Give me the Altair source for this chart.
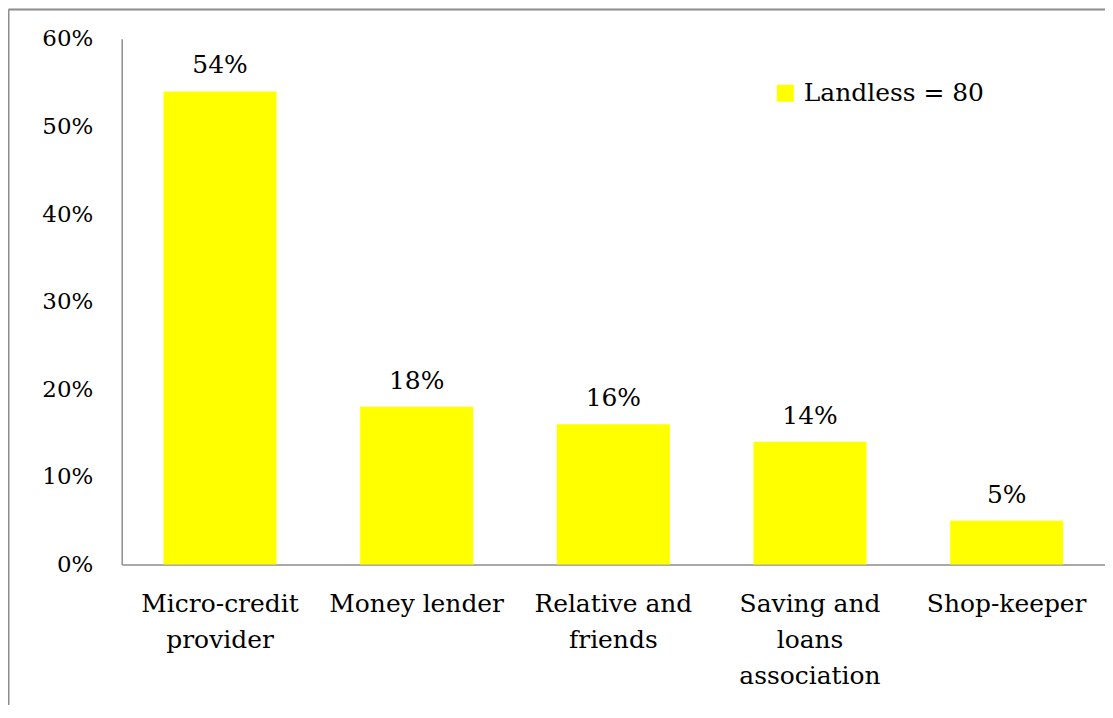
import altair as alt
import pandas as pd

categories = ["Micro-credit|provider", "Money lender", "Relative and|friends",
              "Saving and|loans|association", "Shop-keeper"]
values = [54, 18, 16, 14, 5]
value_labels = ["54%", "18%", "16%", "14%", "5%"]
series_name = "Landless = 80"
y_ticks = [0, 0.1, 0.2, 0.3, 0.4, 0.5, 0.6]

df = pd.DataFrame({
    "category": categories,
    "share": [v / 100 for v in values],
    "label": value_labels,
    "series": [series_name] * len(categories),
})

FONT = "DejaVu Serif"
W, H = 986, 527

base = alt.Chart(df)

bars = base.mark_bar(color="#FFFF00").encode(
    x=alt.X("category:N", sort=None, title=None,
            scale=alt.Scale(paddingInner=0.425, paddingOuter=0.2125),
            axis=alt.Axis(labelExpr="split(datum.label, '|')", labelAngle=0,
                          labelFont=FONT, labelFontSize=25, labelColor="black",
                          labelLineHeight=36, labelPadding=27, ticks=False,
                          domainColor="#8c8c8c", domainWidth=1.5, labelLimit=300)),
    y=alt.Y("share:Q", title=None,
            scale=alt.Scale(domain=[0, 0.6], nice=False),
            axis=alt.Axis(values=y_ticks, format=".0%", grid=False, ticks=False,
                          labelFont=FONT, labelFontSize=23, labelColor="black",
                          labelPadding=29, domainColor="#8c8c8c", domainWidth=1.5)),
    fill=alt.Fill("series:N", title=None,
                  scale=alt.Scale(domain=[series_name], range=["#FFFF00"]),
                  legend=alt.Legend(orient="none", legendX=653, legendY=42,
                                    symbolType="square", symbolSize=290,
                                    symbolStrokeWidth=0, labelFont=FONT,
                                    labelFontSize=25, labelColor="black",
                                    labelOffset=6, labelLimit=400)),
)

text = base.mark_text(baseline="bottom", dy=-13, font=FONT, fontSize=25,
                      color="black").encode(
    x=alt.X("category:N", sort=None),
    y="share:Q",
    text="label:N",
)

frame_df = pd.DataFrame({"k": [0]})
top_line = alt.Chart(frame_df).mark_rule(color="#8c8c8c", strokeWidth=2).encode(
    x=alt.value(-113.5), x2=alt.value(W + 200), y=alt.value(-29.5))
left_line = alt.Chart(frame_df).mark_rule(color="#8c8c8c", strokeWidth=2).encode(
    x=alt.value(-113.5), y=alt.value(-29.5), y2=alt.value(H + 300))

chart = alt.layer(bars, text, top_line, left_line).properties(
    width=W, height=H,
    background="white",
    autosize=alt.AutoSizeParams(type="none"),
    padding={"left": 114, "top": 30, "right": 0, "bottom": 140},
).configure_view(stroke=None)

chart.save("out.html", embed_options={"renderer": "svg", "actions": False})
